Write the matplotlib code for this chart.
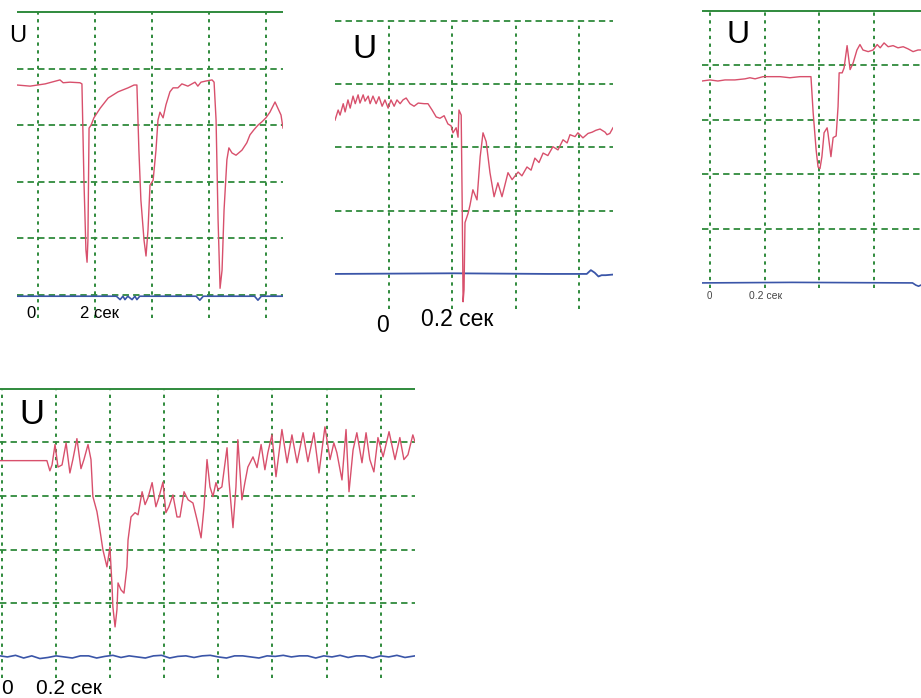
"""Four oscilloscope traces of U(t) on a green scope graticule.

Writes out.png (921x698). Each panel is one axes in scope divisions:
x in seconds, y in vertical divisions above the zero (blue) trace.
"""
import matplotlib
matplotlib.use("Agg")
import matplotlib.pyplot as plt

plt.rcParams["font.family"] = ["Liberation Sans", "DejaVu Sans"]
plt.rcParams["lines.scale_dashes"] = False

W, H = 921, 698
RED = "#d8506c"
GRID = "#2f8a3c"
BLUE = "#3a55a8"

# ---- panel 1: three deep dips, 2 s per division
p1_t = [-0.74, -0.28, 0.25, 0.77, 0.88, 1.12, 1.47, 1.54, 1.61, 1.68, 1.72, 1.75, 1.79, 1.86,
        1.96, 2.18, 2.46, 2.81, 3.16, 3.37, 3.47, 3.54, 3.61, 3.72, 3.79, 3.86, 3.93, 4.04,
        4.14, 4.21, 4.28, 4.39, 4.49, 4.63, 4.74, 4.91, 5.05, 5.26, 5.51, 5.61, 5.72, 5.89,
        6.11, 6.18, 6.25, 6.32, 6.39, 6.46, 6.53, 6.63, 6.70, 6.81, 6.95, 7.16, 7.33, 7.44,
        7.58, 7.72, 7.86, 8.00, 8.14, 8.32, 8.42, 8.53, 8.60]
p1_u = [3.71, 3.69, 3.73, 3.80, 3.75, 3.76, 3.75, 3.73, 2.03, 0.80, 0.58, 0.97, 2.95, 3.00,
        3.13, 3.30, 3.48, 3.59, 3.66, 3.71, 3.71, 2.56, 1.68, 0.97, 0.69, 1.15, 1.94, 2.03,
        2.56, 3.09, 3.23, 3.13, 3.36, 3.59, 3.66, 3.66, 3.73, 3.69, 3.76, 3.69, 3.76, 3.78,
        3.80, 3.76, 3.09, 1.33, 0.12, 0.44, 1.50, 2.39, 2.60, 2.51, 2.47, 2.56, 2.69, 2.83,
        2.92, 3.00, 3.06, 3.13, 3.23, 3.41, 3.30, 3.18, 2.95]
p1_base_t = [-0.74, 2.75, 2.88, 2.98, 3.05, 3.15, 3.30, 3.40, 3.47, 3.57, 5.55, 5.68, 5.80,
             7.60, 7.72, 7.84, 8.60]
p1_base_u = [-0.02, -0.02, -0.08, -0.02, -0.08, -0.02, -0.08, -0.02, -0.08, -0.02, -0.02,
             -0.09, -0.02, -0.02, -0.09, -0.02, -0.02]

# ---- panel 2: single sharp dip, 0.2 s per division
p2_t = [-0.171, -0.161, -0.155, -0.145, -0.139, -0.130, -0.123, -0.114, -0.107, -0.098,
        -0.092, -0.082, -0.076, -0.066, -0.060, -0.051, -0.041, -0.032, -0.022, -0.013,
        -0.003, 0.006, 0.016, 0.025, 0.035, 0.044, 0.054, 0.066, 0.079, 0.092, 0.111, 0.123,
        0.136, 0.149, 0.161, 0.174, 0.186, 0.196, 0.202, 0.212, 0.218, 0.221, 0.228, 0.231,
        0.234, 0.237, 0.240, 0.250, 0.256, 0.265, 0.278, 0.288, 0.297, 0.307, 0.319, 0.332,
        0.344, 0.357, 0.376, 0.389, 0.408, 0.420, 0.436, 0.449, 0.461, 0.474, 0.487, 0.502,
        0.518, 0.534, 0.550, 0.563, 0.572, 0.588, 0.597, 0.613, 0.629, 0.642, 0.654, 0.667,
        0.683, 0.689, 0.698, 0.708]
p2_u = [2.43, 2.59, 2.51, 2.69, 2.56, 2.75, 2.62, 2.81, 2.69, 2.83,
        2.70, 2.83, 2.73, 2.81, 2.69, 2.81, 2.69, 2.80, 2.65, 2.75,
        2.62, 2.75, 2.65, 2.75, 2.69, 2.75, 2.78, 2.69, 2.65, 2.70, 2.69, 2.69,
        2.59, 2.48, 2.46, 2.50, 2.37, 2.34, 2.23, 2.31, 2.16, 2.59, 2.51, 1.17,
        -0.44, -0.25, 0.81, 0.96, 1.09, 1.33, 1.17, 1.85, 2.23, 2.09, 1.60, 1.22,
        1.44, 1.22, 1.60, 1.49, 1.61, 1.55, 1.69, 1.64, 1.83, 1.76, 1.91, 1.87,
        2.01, 1.96, 2.12, 2.07, 2.20, 2.17, 2.23, 2.15, 2.22, 2.24, 2.27, 2.29,
        2.24, 2.20, 2.22, 2.31]
p2_base_t = [-0.171, 0.2, 0.5, 0.625, 0.638, 0.650, 0.662, 0.672, 0.685, 0.708]
p2_base_u = [0.0, 0.01, 0.0, 0.0, 0.06, 0.02, -0.04, -0.02, -0.02, -0.01]

# ---- panel 3: dip then step up, 0.2 s per division
p3_t = [-0.029, 0.000, 0.029, 0.055, 0.091, 0.128, 0.146, 0.165, 0.194, 0.219, 0.256, 0.292,
        0.329, 0.369, 0.377, 0.388, 0.395, 0.402, 0.409, 0.417, 0.428, 0.431, 0.442, 0.450,
        0.461, 0.468, 0.472, 0.483, 0.490, 0.501, 0.512, 0.523, 0.537, 0.548, 0.559, 0.578,
        0.596, 0.611, 0.622, 0.636, 0.651, 0.669, 0.687, 0.706, 0.724, 0.742, 0.760, 0.775]
p3_u = [3.71, 3.73, 3.71, 3.73, 3.73, 3.75, 3.77, 3.75, 3.79, 3.79, 3.79, 3.77,
        3.79, 3.79, 3.13, 2.44, 2.13, 2.10, 2.32, 2.76, 2.85, 2.76, 2.32, 2.67,
        2.70, 3.24, 3.86, 3.86, 3.95, 4.36, 3.92, 4.04, 4.28, 4.38, 4.28, 4.25,
        4.28, 4.38, 4.32, 4.41, 4.34, 4.36, 4.32, 4.34, 4.30, 4.25, 4.28, 4.28]
p3_base_t = [-0.029, 0.3, 0.74, 0.752, 0.762, 0.775]
p3_base_u = [0.0, 0.01, 0.0, -0.04, -0.06, -0.03]

# ---- panel 4: noisy dip and recovery, 0.2 s per division
p4_t = [-0.007, 0.067, 0.140, 0.166, 0.177, 0.185, 0.196, 0.207, 0.222, 0.237, 0.251, 0.262,
        0.277, 0.292, 0.303, 0.318, 0.329, 0.336, 0.351, 0.362, 0.373, 0.388, 0.392, 0.399,
        0.407, 0.410, 0.418, 0.425, 0.429, 0.440, 0.451, 0.462, 0.466, 0.477, 0.492, 0.503,
        0.518, 0.529, 0.540, 0.555, 0.569, 0.580, 0.595, 0.606, 0.617, 0.632, 0.647, 0.658,
        0.673, 0.688, 0.706, 0.721, 0.736, 0.747, 0.758, 0.769, 0.780, 0.791, 0.799, 0.813,
        0.832, 0.839, 0.854, 0.865, 0.872, 0.887, 0.898, 0.909, 0.928, 0.943, 0.958, 0.972,
        0.983, 0.998, 1.013, 1.035, 1.054, 1.072, 1.091, 1.113, 1.131, 1.153, 1.172, 1.194,
        1.213, 1.227, 1.238, 1.257, 1.272, 1.283, 1.298, 1.312, 1.331, 1.346, 1.360, 1.375,
        1.390, 1.409, 1.431, 1.453, 1.471, 1.486, 1.501, 1.519, 1.527]
p4_u = [3.66, 3.66, 3.66, 3.66, 3.47, 3.58, 3.96, 3.54, 3.58, 3.99, 3.43, 3.68,
        4.07, 3.51, 3.68, 3.96, 3.68, 2.99, 2.71, 2.37, 2.00, 1.68, 1.81, 2.05,
        1.31, 0.93, 0.56, 0.88, 1.38, 1.25, 1.19, 1.68, 2.18, 2.61, 2.69, 2.65,
        3.08, 2.84, 2.97, 3.25, 2.80, 2.97, 3.26, 2.69, 2.80, 3.02, 2.61, 2.61,
        3.08, 2.93, 2.87, 2.56, 2.22, 2.80, 3.68, 3.17, 2.99, 3.25, 3.12, 3.17,
        3.90, 3.30, 2.41, 3.17, 4.05, 2.93, 3.25, 3.54, 3.73, 3.53, 3.96, 3.49,
        3.81, 4.14, 3.36, 4.24, 3.62, 4.14, 3.62, 4.18, 3.64, 4.18, 3.43, 4.29,
        3.68, 3.99, 3.81, 3.30, 4.24, 3.08, 3.86, 4.18, 3.62, 4.18, 3.68, 3.45,
        4.09, 3.73, 4.20, 3.68, 4.09, 3.68, 3.77, 4.14, 4.01]
p4_base_t = [-0.007, 0.02, 0.05, 0.08, 0.11, 0.14, 0.17, 0.20, 0.23, 0.26, 0.29, 0.32, 0.35,
             0.38, 0.41, 0.44, 0.47, 0.50, 0.53, 0.56, 0.59, 0.62, 0.65, 0.68, 0.71, 0.74,
             0.77, 0.80, 0.83, 0.86, 0.89, 0.92, 0.95, 0.98, 1.01, 1.04, 1.07, 1.10, 1.13,
             1.16, 1.19, 1.22, 1.25, 1.28, 1.31, 1.34, 1.37, 1.40, 1.43, 1.46, 1.49, 1.527]
p4_base_u = [0.02, 0.00, 0.03, -0.02, 0.02, -0.03, -0.01, 0.02, 0.00, -0.02, 0.02, 0.02, -0.02,
             0.01, 0.03, -0.01, 0.02, 0.00, -0.02, 0.02, 0.03, -0.02, 0.01, 0.02, -0.01, 0.02,
             0.03, 0.00, -0.02, 0.02, 0.02, 0.00, -0.02, 0.02, 0.01, 0.03, 0.00, 0.02, 0.02,
             -0.02, 0.02, 0.00, 0.03, -0.01, 0.02, 0.02, -0.02, 0.02, 0.00, 0.03, -0.01, 0.02]

fig = plt.figure(figsize=(W / 100, H / 100), dpi=100)


def px_rect(x0, y0, x1, y1):
    return [x0 / W, 1 - y1 / H, (x1 - x0) / W, (y1 - y0) / H]


def label(x, y, s, fs, ha="left", color="black"):
    fig.text(x / W, 1 - y / H, s, fontsize=fs, ha=ha, va="center", color=color)


def scope(rect, xlim, ylim, vlines, vspan, hdash, hsolid=None):
    ax = fig.add_axes(px_rect(*rect))
    ax.set_xlim(xlim)
    ax.set_ylim(ylim)
    ax.axis("off")
    for v in vlines:
        ax.plot([v, v], vspan, color=GRID, lw=1.4, dashes=(2.4, 3.2), zorder=1)
    for h in hdash:
        ax.plot(xlim, [h, h], color=GRID, lw=1.3, dashes=(4.6, 3.0), zorder=1)
    if hsolid is not None:
        ax.plot(xlim, [hsolid, hsolid], color=GRID, lw=1.4, zorder=1)
    return ax


ax1 = scope((17, 8, 283, 320), (-0.74, 8.60), (-0.44, 5.07), [0, 2, 4, 6, 8], (-0.41, 5),
            [0, 1, 2, 3, 4], 5)
ax1.plot(p1_base_t, p1_base_u, color=BLUE, lw=1.2, zorder=2)
ax1.plot(p1_t, p1_u, color=RED, lw=1.0, zorder=3)

ax2 = scope((335, 17, 613, 310), (-0.171, 0.708), (-0.57, 4.06), [0, 0.2, 0.4, 0.6],
            (-0.55, 4), [1, 2, 3, 4])
ax2.plot(p2_base_t, p2_base_u, color=BLUE, lw=1.3, zorder=2)
ax2.plot(p2_t, p2_u, color=RED, lw=1.0, zorder=3)

ax3 = scope((702, 7, 921, 290), (-0.029, 0.771), (-0.13, 5.07), [0, 0.2, 0.4, 0.6],
            (-0.1, 5), [1, 2, 3, 4], 5)
ax3.plot(p3_base_t, p3_base_u, color=BLUE, lw=1.2, zorder=2)
ax3.plot(p3_t, p3_u, color=RED, lw=1.0, zorder=3)

ax4 = scope((0, 385, 415, 680), (-0.0074, 1.527), (-0.43, 5.07),
            [0, 0.2, 0.4, 0.6, 0.8, 1.0, 1.2, 1.4], (-0.4, 5), [1, 2, 3, 4], 5)
ax4.plot(p4_base_t, p4_base_u, color=BLUE, lw=1.2, zorder=2)
ax4.plot(p4_t, p4_u, color=RED, lw=1.0, zorder=3)

# axis letters and time marks
label(9, 36, "U", 17)
label(31, 313, "0", 12, ha="center")
label(80, 313, "2 сек", 12)

label(352, 50, "U", 24)
label(382, 325, "0", 16.5, ha="center")
label(421, 319, "0.2 сек", 16.5)

label(726, 35, "U", 23)
label(709, 296, "0", 7, ha="center", color="#444444")
label(749, 296, "0.2 сек", 7.5, color="#444444")

label(19, 415, "U", 25)
label(7, 689, "0", 15, ha="center")
label(36, 689, "0.2 сек", 15)

fig.savefig("out.png", dpi=100)
